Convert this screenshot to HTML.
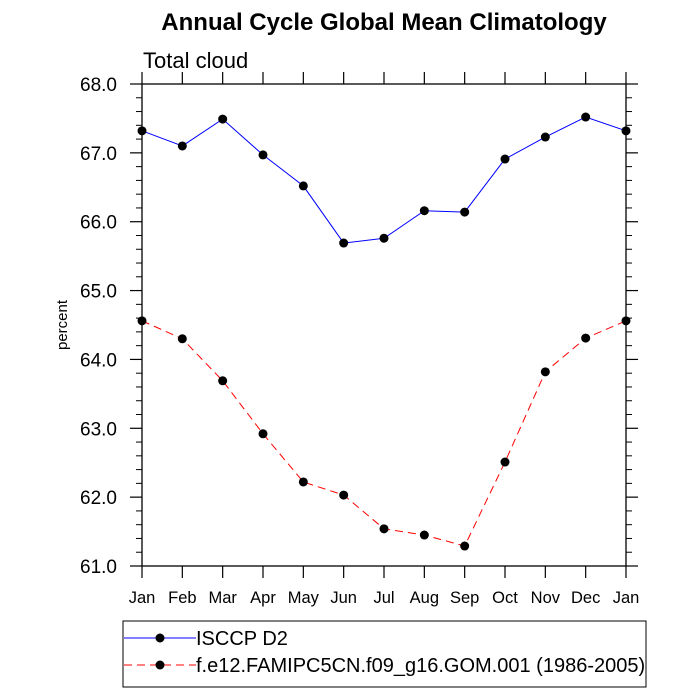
<!DOCTYPE html>
<html><head><meta charset="utf-8"><style>body{margin:0;background:#fff}svg{display:block;font-family:"Liberation Sans",sans-serif}</style></head>
<body>
<svg id="c" width="700" height="700">
<text x="384" y="30" text-anchor="middle" font-size="24" font-weight="bold">Annual Cycle Global Mean Climatology</text>
<text x="143" y="68" font-size="22">Total cloud</text>
<text transform="translate(67,325) rotate(-90)" text-anchor="middle" font-size="15">percent</text>
<rect x="142" y="84" width="484" height="482" fill="none" stroke="#000" stroke-width="1.3"/>
<g id="ax"></g><g id="series"></g>
<g>
<rect x="123" y="621" width="523" height="66" fill="none" stroke="#000" stroke-width="1"/>
<line x1="124" y1="638" x2="196" y2="638" stroke="#00f" stroke-width="1"/>
<circle cx="160" cy="638" r="4.5" fill="#000"/>
<text x="196" y="645" font-size="20">ISCCP D2</text>
<line x1="124" y1="665" x2="196" y2="665" stroke="#f00" stroke-width="1" stroke-dasharray="8,5"/>
<circle cx="160" cy="665" r="4.5" fill="#000"/>
<text x="196" y="672" font-size="20">f.e12.FAMIPC5CN.f09_g16.GOM.001 (1986-2005)</text>
</g>
</svg>
<script>
const months=["Jan","Feb","Mar","Apr","May","Jun","Jul","Aug","Sep","Oct","Nov","Dec","Jan"];
const isccp=[67.32,67.10,67.49,66.97,66.52,65.69,65.76,66.16,66.14,66.91,67.23,67.52,67.32];
const model=[64.56,64.30,63.69,62.92,62.22,62.03,61.54,61.45,61.29,62.51,63.82,64.31,64.56];
const yTicks=["61.0","62.0","63.0","64.0","65.0","66.0","67.0","68.0"];
const X0=142,X1=626,Y0=566,Y1=84,YMIN=61,YMAX=68;
const NS="http://www.w3.org/2000/svg";
function xs(i){return X0+(X1-X0)*i/(months.length-1);}
function ys(v){return Y0-(v-YMIN)/(YMAX-YMIN)*(Y0-Y1);}
function mk(t,a,p){const e=document.createElementNS(NS,t);for(const k in a)e.setAttribute(k,a[k]);p.appendChild(e);return e;}
const ax=document.getElementById('ax');
months.forEach((m,i)=>{const x=xs(i);
 const t1=mk('line',{x1:x,y1:Y0,x2:x,y2:Y0+12,stroke:'#000','stroke-width':1.2},ax);
 
 
 const t2=mk('line',{x1:x,y1:Y1,x2:x,y2:Y1-12,stroke:'#000','stroke-width':1.2},ax);
 
 
 const tx=mk('text',{x:x,y:603,'text-anchor':'middle','font-size':16.5},ax);tx.textContent=m;
 
 
});
yTicks.forEach(s=>{const v=parseFloat(s),y=ys(v);
 const t=mk('line',{x1:X0-12,y1:y,x2:X0,y2:y,stroke:'#000','stroke-width':1.2},ax);
 
 
 const t2=mk('line',{x1:X1,y1:y,x2:X1+12,y2:y,stroke:'#000','stroke-width':1.2},ax);
 
 
 const tx=mk('text',{x:117,y:y+7,'text-anchor':'end','font-size':19},ax);tx.textContent=s;
 
 
 if(v<YMAX){for(let k=1;k<5;k++){const yy=ys(v+k*0.2);
  const m1=mk('line',{x1:X0-6,y1:yy,x2:X0,y2:yy,stroke:'#000','stroke-width':1},ax);
  
  
  const m2=mk('line',{x1:X1,y1:yy,x2:X1+6,y2:yy,stroke:'#000','stroke-width':1},ax);
  
  }}
});
const sg=document.getElementById('series');
function draw(vals,color,dash,name){
 const pts=vals.map((v,i)=>xs(i)+','+ys(v)).join(' ');
 const pl=mk('polyline',{points:pts,fill:'none',stroke:color,'stroke-width':1,'stroke-dasharray':dash},sg);
 
 
 vals.forEach((v,i)=>{const c=mk('circle',{cx:xs(i),cy:ys(v),r:4.5,fill:'#000'},sg);
  
  });
}
draw(isccp,'#00f','none','isccp');
draw(model,'#f00','8,5','model');
</script>
</body></html>
